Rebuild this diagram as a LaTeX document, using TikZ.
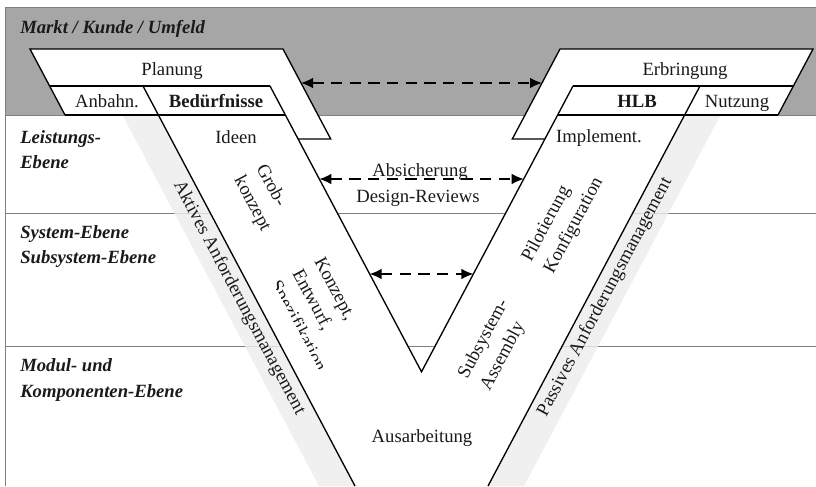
\documentclass[tikz,border=0pt]{standalone}
\usepackage{fontspec}
\setmainfont{Liberation Serif}
\usetikzlibrary{arrows.meta}
\definecolor{bandgray}{HTML}{A6A6A6}
\definecolor{stripgray}{HTML}{EDEDED}
\definecolor{rulegray}{HTML}{7F7F7F}
\definecolor{inkcol}{HTML}{1A1A1A}
\begin{document}
\begin{tikzpicture}[x=0.75pt,y=-0.75pt,
  txt/.style={font=\fontsize{14}{18.75}\selectfont, text=inkcol, inner sep=0pt},
  boxlabel/.style={txt, anchor=base},
  levellabel/.style={txt, font=\fontsize{14}{18.75}\selectfont\bfseries\itshape, anchor=base west},
  armlabel/.style={txt, align=left},
  rule/.style={draw=rulegray, line width=0.7pt},
  outline/.style={draw=black, line width=1pt, line join=miter},
  reqstrip/.style={fill=stripgray, fill opacity=0.8},
  link/.style={draw=black, line width=1.1pt, dash pattern=on 8.5pt off 5.5pt,
    {Latex[length=9pt,width=8pt]}-{Latex[length=9pt,width=8pt]}},
]
\useasboundingbox (0,0) rectangle (816,486);
\fill[white] (0,0) rectangle (816,486);

% market band and level rules
\fill[bandgray] (5,7) rectangle (816,115);
\draw[rule] (5,486) -- (5,7) -- (816,7);
\draw[rule] (5,115) -- (816,115);
\draw[rule] (5,213) -- (816,213);
\draw[rule] (5,346) -- (816,346);

% requirement management strips
\fill[reqstrip] (122.4,115) -- (158.4,115) -- (355,486) -- (319,486) -- cycle;
\fill[reqstrip] (684.6,115) -- (720.6,115) -- (524,486) -- (488,486) -- cycle;

% the V body
\fill[white] (30,49) -- (283,49) -- (330.7,139) -- (298.1,139) -- (421.5,371.8)
  -- (544.9,139) -- (512.3,139) -- (560,49) -- (813,49) -- (778,115)
  -- (684.6,115) -- (488,486) -- (355,486) -- (158.4,115) -- (65,115) -- cycle;

% left wing
\draw[outline] (65,115) -- (30,49) -- (283,49) -- (330.7,139) -- (298.1,139);
\draw[outline] (49.6,86) -- (270,86);
\draw[outline] (65,115) -- (285.4,115);
\draw[outline] (143,86) -- (355,486);
% inner V
\draw[outline] (270,86) -- (421.5,371.8) -- (573,86);
% right wing
\draw[outline] (778,115) -- (813,49) -- (560,49) -- (512.3,139) -- (544.9,139);
\draw[outline] (573,86) -- (793.4,86);
\draw[outline] (557.6,115) -- (778,115);
\draw[outline] (700,86) -- (488,486);

% arrow end points on the wing edges
\coordinate (planR) at (301,83);
\coordinate (erbL) at (542,83);
\coordinate (absL) at (319.3,179);
\coordinate (absR) at (523.7,179);
\coordinate (sysL) at (369.6,274);
\coordinate (sysR) at (473.4,274);

\draw[link] (planR) -- (erbL);
\draw[link] (absL) -- (absR);
\draw[link] (sysL) -- (sysR);

% level labels
\node[levellabel] (markt) at (20,33) {Markt / Kunde / Umfeld};
\node[levellabel] (leist1) at (20,143) {Leistungs-};
\node[levellabel] (leist2) at (20,168) {Ebene};
\node[levellabel] (sys1) at (20,238) {System-Ebene};
\node[levellabel] (sys2) at (20,263) {Subsystem-Ebene};
\node[levellabel] (mod1) at (20,371) {Modul- und};
\node[levellabel] (mod2) at (20,397) {Komponenten-Ebene};

% box labels
\node[boxlabel] (planung) at (172,75) {Planung};
\node[boxlabel] (anbahn) at (107,107) {Anbahn.};
\node[boxlabel] (bed) at (216,107) {\bfseries Bedürfnisse};
\node[boxlabel] (ideen) at (236,143) {Ideen};
\node[boxlabel] (erbringung) at (685,75) {Erbringung};
\node[boxlabel] (hlb) at (637,107) {\bfseries HLB};
\node[boxlabel] (nutzung) at (737,107) {Nutzung};
\node[boxlabel] (impl) at (599,142) {Implement.};
\node[boxlabel] (absich) at (420,176) {Absicherung};
\node[boxlabel] (design) at (418,202) {Design-Reviews};
\node[boxlabel] (ausarb) at (422,442) {Ausarbeitung};

% labels along the arms
\node[armlabel, rotate=-62] (grob) at (263,198) {Grob-\\konzept};
\begin{scope}
  \clip (229,200) -- (380.5,486) -- (520,486) -- (520,200) -- cycle;
  \node[armlabel, rotate=-62] (konzept) at (319,315) {Konzept,\\Entwurf,\\Spezifikation};
\end{scope}
\node[armlabel, rotate=62] (pilot) at (563,220) {Pilotierung\\Konfiguration};
\node[armlabel, rotate=62] (subsys) at (495,345) {Subsystem-\\Assembly};
\node[txt, rotate=-62] (aktiv) at (239,298) {Aktives Anforderungsmanagement};
\node[txt, rotate=62] (passiv) at (605,297) {Passives Anforderungsmanagement};
\end{tikzpicture}
\end{document}
